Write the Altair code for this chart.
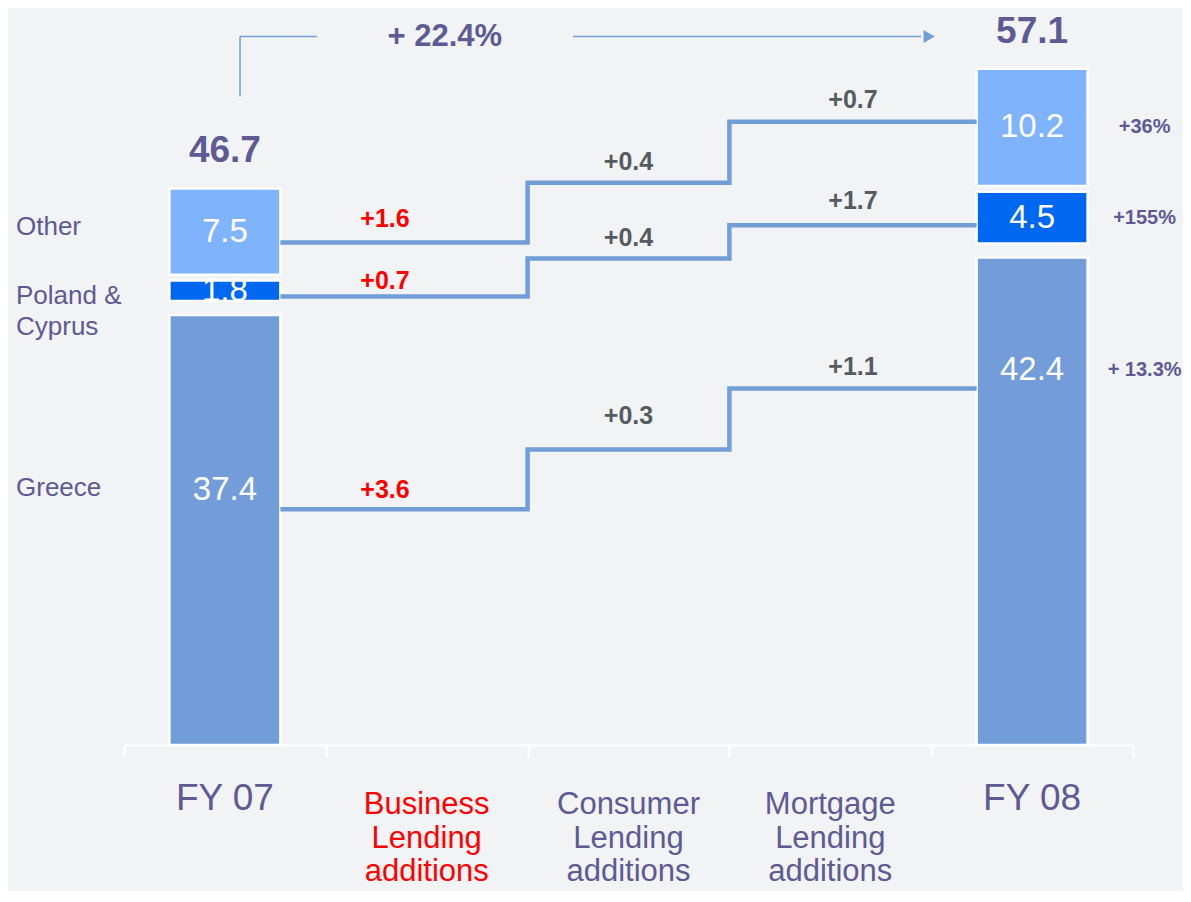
import altair as alt
import pandas as pd

# ---------------- data ----------------
regions = ["Greece", "Poland & Cyprus", "Other"]
region_labels = [["Greece"], ["Poland &", "Cyprus"], ["Other"]]
fy07_values = [37.4, 1.8, 7.5]
fy08_values = [42.4, 4.5, 10.2]
growth_labels = ["+ 13.3%", "+155%", "+36%"]
totals = [46.7, 57.1]
total_growth_label = "+ 22.4%"
categories = [["FY 07"], ["Business", "Lending", "additions"], ["Consumer", "Lending", "additions"],
              ["Mortgage", "Lending", "additions"], ["FY 08"]]
greece_additions = [3.6, 0.3, 1.1]
poland_additions = [0.7, 0.4, 1.7]
other_additions = [1.6, 0.4, 0.7]
# schematic (not to scale) step levels of the connector lines, chart units
greece_levels = [20.5, 25.7, 31.0]
poland_levels = [39.0, 42.3, 45.2]
other_levels = [43.7, 48.9, 54.2]

# ---------------- style ----------------
W, H = 1009, 737
PX = 11.5                     # px per unit
YMAX = H / PX
BAR_HALF = 0.275
GAPS = [0.0, 1.2, 0.5]
BG = "#f2f3f5"
PURPLE = "#5e5a94"
GREY = "#555b62"
RED = "#ff0000"
LINE = "#729ed8"
FONT = "Liberation Sans"
region_colors = ["#729dd9", "#0068f0", "#7fb4fd"]
REGION_LABEL_SHIFT = [6, 13, 3.5]   # px, baseline below anchor
STEP_LABEL_LIFT = {"Greece": [19, 33, 22], "Poland & Cyprus": [16, 21, 24], "Other": [23, 21, 22]}
STEP_LABEL_DX = [-19, 0, 0]

xs = alt.Scale(domain=[0, 5])
ys = alt.Scale(domain=[0, YMAX])
X_AXIS = alt.Axis(values=[0, 1, 2, 3, 4, 5], labels=False, title=None, grid=False,
                  domainColor="white", domainWidth=2, tickColor="white",
                  tickWidth=2, tickSize=12)


def X(f="x"):
    return alt.X(f"{f}:Q", scale=xs, axis=X_AXIS)


def Y(f="y"):
    return alt.Y(f"{f}:Q", scale=ys, axis=None)


levels = {"Greece": greece_levels, "Poland & Cyprus": poland_levels, "Other": other_levels}
adds = {"Greece": greece_additions, "Poland & Cyprus": poland_additions, "Other": other_additions}

# ---------------- bars ----------------
bar_rows = []
tot_rows = []
for xi, vals, tot in [(0.5, fy07_values, totals[0]), (4.5, fy08_values, totals[1])]:
    base = 0.0
    for r, v, g, c in zip(regions, vals, GAPS, region_colors):
        y0 = base + g
        y1 = y0 + v
        base = y1
        if r == "Greece":
            ly = (levels[r][0] if xi < 1 else levels[r][-1]) + 1.65
        else:
            ly = (y0 + y1) / 2
        bar_rows.append(dict(x=xi - BAR_HALF, x2=xi + BAR_HALF, xc=xi, y=y0, y2=y1,
                             region=r, color=c, label=f"{v:.1f}", ly=ly))
    tot_rows.append(dict(x=xi, y=base, label=f"{tot:.1f}"))
bars_df = pd.DataFrame(bar_rows)
tot_df = pd.DataFrame(tot_rows)

bars = alt.Chart(bars_df).mark_rect(stroke="white", strokeWidth=2.5).encode(
    x=X("x"), x2="x2", y=Y("y"), y2="y2",
    color=alt.Color("color:N", scale=None))

bar_text = alt.Chart(bars_df).mark_text(font=FONT, fontSize=33, color="white",
                                        baseline="middle").encode(
    x=X("xc"), y=Y("ly"), text="label:N")

tot_text = alt.Chart(tot_df).mark_text(font=FONT, fontSize=37, fontWeight="bold",
                                       color=PURPLE, baseline="middle", dy=-37).encode(
    x=X("x"), y=Y("y"), text="label:N")

# growth % at right of FY08
fy08_lbl = bars_df[bars_df.xc > 1].copy()
fy08_lbl["glabel"] = growth_labels
fy08_lbl["gx"] = fy08_lbl["x2"]
growth_text = alt.Chart(fy08_lbl).mark_text(font=FONT, fontSize=20, fontWeight="bold",
                                            color=PURPLE, dx=57, baseline="middle").encode(
    x=X("gx"), y=Y("ly"), text="glabel:N")

# region labels left
fy07_lbl = bars_df[bars_df.xc < 1].copy().reset_index(drop=True)
fy07_lbl["rlabel"] = region_labels
fy07_lbl["rx"] = 0.0
fy07_lbl["ry"] = [ly - s / PX for ly, s in zip(fy07_lbl["ly"], REGION_LABEL_SHIFT)]
region_text = alt.Chart(fy07_lbl).mark_text(font=FONT, fontSize=26, color=PURPLE, align="left",
                                            baseline="alphabetic", dx=-108, lineHeight=31).encode(
    x=X("rx"), y=Y("ry"), text="rlabel")

# ---------------- connector step lines ----------------
seg_start = [0.5 + BAR_HALF, 2.0, 3.0]
seg_end = [2.0, 3.0, 4.5 - BAR_HALF]
line_rows = []
lab_rows = []
for r in regions:
    lv = levels[r]
    pts = [(seg_start[0], lv[0]), (seg_start[1], lv[1]), (seg_start[2], lv[2]), (seg_end[2], lv[2])]
    for k, (px_, py_) in enumerate(pts):
        line_rows.append(dict(region=r, x=px_, y=py_, o=k))
    for i in range(3):
        lab_rows.append(dict(region=r,
                             x=(seg_start[i] + seg_end[i]) / 2 + STEP_LABEL_DX[i] / (W / 5),
                             y=lv[i] + STEP_LABEL_LIFT[r][i] / PX,
                             label=f"+{adds[r][i]:.1f}", color=RED if i == 0 else GREY))
line_df = pd.DataFrame(line_rows)
lab_df = pd.DataFrame(lab_rows)

lines = alt.Chart(line_df).mark_line(interpolate="step-after", color=LINE, strokeWidth=4.5).encode(
    x=X("x"), y=Y("y"), detail="region:N", order="o:Q")

step_text = alt.Chart(lab_df).mark_text(
    font=FONT, fontSize=25, fontWeight="bold", baseline="middle").encode(
    x=X("x"), y=Y("y"), text="label:N", color=alt.Color("color:N", scale=None))

# ---------------- growth arrow annotation ----------------
ARROW_Y = 61.6
arrow_df = pd.DataFrame([
    dict(x=0.575, x2=0.575, y=56.4, y2=ARROW_Y),
    dict(x=0.575, x2=0.956, y=ARROW_Y, y2=ARROW_Y),
    dict(x=2.225, x2=3.95, y=ARROW_Y, y2=ARROW_Y),
])
arrow = alt.Chart(arrow_df).mark_rule(color=LINE, strokeWidth=1.5).encode(
    x=X("x"), x2="x2", y=Y("y"), y2="y2")
head = alt.Chart(pd.DataFrame([dict(x=3.99, y=ARROW_Y)])).mark_point(
    shape="triangle-right", filled=True, size=170, color=LINE, opacity=1).encode(
    x=X("x"), y=Y("y"))
growth_total = alt.Chart(pd.DataFrame([dict(x=1.59, y=ARROW_Y, t=total_growth_label)])).mark_text(
    font=FONT, fontSize=31, fontWeight="bold", color=PURPLE, baseline="middle").encode(
    x=X("x"), y=Y("y"), text="t:N")

# ---------------- category labels ----------------
cat_df = pd.DataFrame(dict(x=[i + 0.5 for i in range(5)],
                           t=categories,
                           color=[PURPLE, RED, PURPLE, PURPLE, PURPLE]))
fy_cats = alt.Chart(cat_df.iloc[[0, 4]]).mark_text(
    font=FONT, fontSize=37, baseline="alphabetic").encode(
    x=X("x"), y=alt.value(802), text="t", color=alt.Color("color:N", scale=None))
add_cats = alt.Chart(cat_df.iloc[[1, 2, 3]]).mark_text(
    font=FONT, fontSize=31, baseline="alphabetic", lineHeight=33.5).encode(
    x=X("x"), y=alt.value(806), text="t", color=alt.Color("color:N", scale=None))

chart = alt.layer(
    bars, lines, bar_text, tot_text, growth_text, region_text,
    step_text, arrow, head, growth_total, fy_cats, add_cats
).properties(
    width=W, height=H,
    padding={"left": 116, "top": 0, "right": 50, "bottom": 146},
    autosize=alt.AutoSizeParams(type="none"),
).configure(background=BG).configure_view(stroke=None)

chart.save("out.html", embed_options={"renderer": "svg", "actions": False})
